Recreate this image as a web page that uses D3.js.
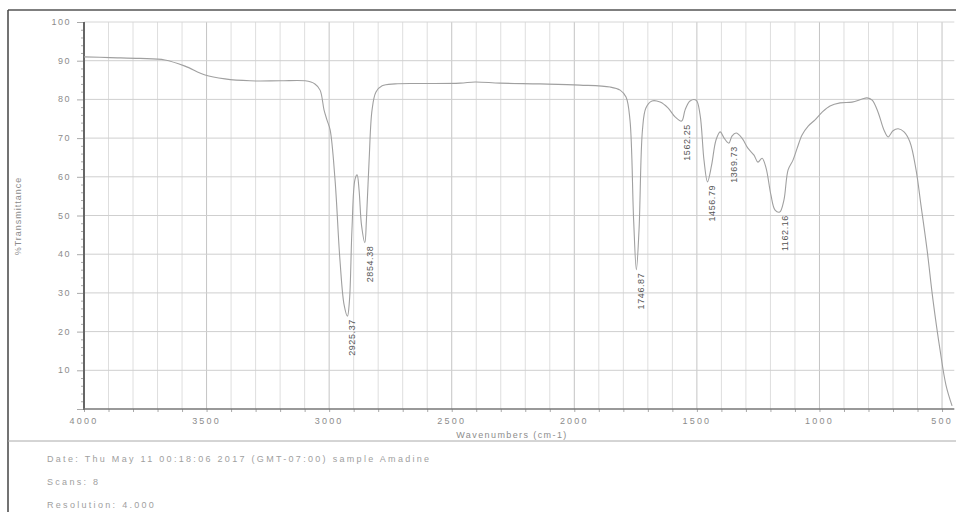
<!DOCTYPE html>
<html>
<head>
<meta charset="utf-8">
<script src="https://cdn.jsdelivr.net/npm/d3@7"></script>
<style>
  html, body { margin: 0; padding: 0; background: #fff; }
  svg { display: block; font-family: "Liberation Sans", Arial, sans-serif; }
</style>
</head>
<body>
<svg id="chart" width="956" height="512"></svg>
<script>
// FTIR spectrum, sample Amadine: [wavenumber cm-1, %T]
const spectrum = [
  [4000, 91.0], [3894, 90.8], [3772, 90.6], [3670, 90.2], [3588, 88.6],
  [3506, 86.3], [3425, 85.3], [3323, 84.8], [3200, 84.8], [3098, 84.8],
  [3058, 84.0], [3037, 82.4], [3021, 77.3], [3009, 74.7], [2996, 72.1],
  [2976, 59.2], [2956, 38.5], [2939, 26.9], [2925.37, 24.0], [2917, 28.2],
  [2907, 46.3], [2895, 59.2], [2886, 60.5], [2878, 56.6], [2868, 47.5],
  [2854.38, 43.0], [2848, 48.8], [2837, 64.3], [2825, 77.3], [2809, 81.9],
  [2784, 83.5], [2731, 84.0], [2629, 84.1], [2466, 84.2], [2405, 84.5],
  [2303, 84.2], [2140, 84.0], [1977, 83.7], [1854, 83.2], [1813, 82.4],
  [1789, 80.6], [1773, 74.7], [1758, 48.8], [1746.87, 36.0], [1736, 46.3],
  [1722, 72.1], [1708, 77.8], [1683, 79.6], [1650, 79.3], [1618, 77.8],
  [1589, 75.5], [1562.25, 74.4], [1548, 77.3], [1528, 79.6], [1503, 79.8],
  [1487, 76.0], [1471, 64.3], [1456.79, 58.7], [1440, 63.0], [1422, 69.5],
  [1405, 71.6], [1389, 70.0], [1369.73, 68.7], [1357, 70.5], [1340, 71.3],
  [1316, 70.0], [1292, 67.4], [1267, 65.6], [1251, 63.8], [1234, 64.8],
  [1218, 62.3], [1198, 55.3], [1181, 51.4], [1162.16, 50.9], [1145, 54.0],
  [1128, 61.8], [1108, 64.3], [1091, 67.4], [1071, 70.8], [1046, 73.1],
  [1018, 74.7], [989, 76.7], [957, 78.3], [916, 79.1], [867, 79.3],
  [826, 80.1], [806, 80.4], [785, 79.8], [761, 76.7], [737, 72.1],
  [720, 70.3], [700, 71.9], [679, 72.4], [655, 71.6], [631, 69.0],
  [606, 61.8], [586, 52.7], [561, 41.1], [537, 28.2], [508, 15.2],
  [484, 6.2], [459, 0.8]
];

// Labelled absorption peaks (wavenumber, %T at the minimum)
const peakWavenumbers = [2925.37, 2854.38, 1746.87, 1562.25, 1456.79, 1369.73, 1162.16];
const peakTransmittance = [24.0, 43.0, 36.0, 74.4, 58.7, 68.7, 50.9];

const xTickValues = [4000, 3500, 3000, 2500, 2000, 1500, 1000, 500];
const yTickValues = [10, 20, 30, 40, 50, 60, 70, 80, 90, 100];

const headerLines = [
  "Date: Thu May 11 00:18:06 2017 (GMT-07:00)  sample Amadine",
  "Scans: 8",
  "Resolution: 4.000"
];

const svg = d3.select("#chart");
const plotLeft = 84, plotRight = 954.3, plotTop = 22, plotBottom = 409;

const x = d3.scaleLinear().domain([4000, 450]).range([plotLeft, plotRight]);
const y = d3.scaleLinear().domain([0, 100]).range([plotBottom, plotTop]);

// Frame around the printout
svg.append("line").attr("x1", 8).attr("x2", 956).attr("y1", 10).attr("y2", 10)
  .attr("stroke", "#555").attr("stroke-width", 1.5);
svg.append("line").attr("x1", 8).attr("x2", 8).attr("y1", 10).attr("y2", 512)
  .attr("stroke", "#444").attr("stroke-width", 1.5);
svg.append("line").attr("x1", 8).attr("x2", 956).attr("y1", 441).attr("y2", 441)
  .attr("stroke", "#aaa").attr("stroke-width", 1);

// Grid
const grid = svg.append("g");
grid.selectAll("line.v").data(d3.range(4000, 450, -100)).join("line")
  .attr("class", "v")
  .attr("x1", d => x(d)).attr("x2", d => x(d))
  .attr("y1", plotTop).attr("y2", plotBottom)
  .attr("stroke", d => d % 500 === 0 ? "#c4c4c4" : "#dedede")
  .attr("stroke-width", 1);
grid.selectAll("line.h").data(d3.range(10, 101, 10)).join("line")
  .attr("class", "h")
  .attr("x1", plotLeft).attr("x2", plotRight)
  .attr("y1", d => y(d)).attr("y2", d => y(d))
  .attr("stroke", d => d === 100 ? "#d6d6d6" : "#cfcfcf")
  .attr("stroke-width", 1);

// Axes
const yAxis = d3.axisLeft(y).tickValues(d3.range(0, 101, 2)).tickSize(3).tickFormat("");
const gy = svg.append("g").attr("transform", `translate(${plotLeft},0)`).call(yAxis);
gy.select(".domain").remove();
gy.selectAll(".tick line").attr("stroke", "#aaa");
gy.selectAll(".tick").filter(d => d % 10 === 0).select("line").attr("x2", -7);

const xAxis = d3.axisBottom(x).tickValues(d3.range(4000, 450, -100)).tickSize(3).tickFormat("");
const gx = svg.append("g").attr("transform", `translate(0,${plotBottom})`).call(xAxis);
gx.select(".domain").remove();
gx.selectAll(".tick line").attr("stroke", "#aaa");

svg.append("line").attr("x1", plotLeft).attr("x2", plotLeft).attr("y1", plotTop).attr("y2", plotBottom + 1)
  .attr("stroke", "#666").attr("stroke-width", 2);
svg.append("line").attr("x1", plotLeft - 1).attr("x2", plotRight).attr("y1", plotBottom).attr("y2", plotBottom)
  .attr("stroke", "#777").attr("stroke-width", 1.6);

// Tick labels
svg.append("g").selectAll("text").data(yTickValues).join("text")
  .attr("x", 71).attr("y", d => y(d) + 3)
  .attr("text-anchor", "end")
  .attr("font-size", 9).attr("letter-spacing", 1.5)
  .attr("fill", "#8c8c8c")
  .text(d => d);
svg.append("g").selectAll("text").data(xTickValues).join("text")
  .attr("x", d => x(d)).attr("y", 424)
  .attr("text-anchor", "middle")
  .attr("font-size", 9).attr("letter-spacing", 2.2)
  .attr("fill", "#8c8c8c")
  .text(d => d);

// Axis titles
svg.append("text").attr("x", 512).attr("y", 438)
  .attr("text-anchor", "middle").attr("font-size", 9).attr("letter-spacing", 1.4)
  .attr("fill", "#8c8c8c").text("Wavenumbers (cm-1)");
svg.append("text").attr("transform", "translate(21,216) rotate(-90)")
  .attr("text-anchor", "middle").attr("font-size", 9).attr("letter-spacing", 1)
  .attr("fill", "#8c8c8c").text("%Transmittance");

// Spectrum trace
const trace = d3.line()
  .x(d => x(d[0])).y(d => y(d[1]))
  .curve(d3.curveCatmullRom.alpha(0.5));
svg.append("path").datum(spectrum)
  .attr("fill", "none").attr("stroke", "#a0a0a0").attr("stroke-width", 1.1)
  .attr("d", trace);

// Peak labels, written vertically below each minimum
svg.append("g").selectAll("text").data(peakWavenumbers).join("text")
  .attr("transform", (d, i) => `translate(${x(d) + 8},${y(peakTransmittance[i]) + 3}) rotate(-90)`)
  .attr("text-anchor", "end")
  .attr("font-size", 9).attr("letter-spacing", 0.6)
  .attr("fill", "#555")
  .text(d => d.toFixed(2));

// Acquisition details
svg.append("g").selectAll("text").data(headerLines).join("text")
  .attr("x", 47).attr("y", (d, i) => 462 + i * 23)
  .attr("font-size", 9).attr("letter-spacing", 2.3)
  .attr("fill", "#a0a0a0")
  .text(d => d);
</script>
</body>
</html>
